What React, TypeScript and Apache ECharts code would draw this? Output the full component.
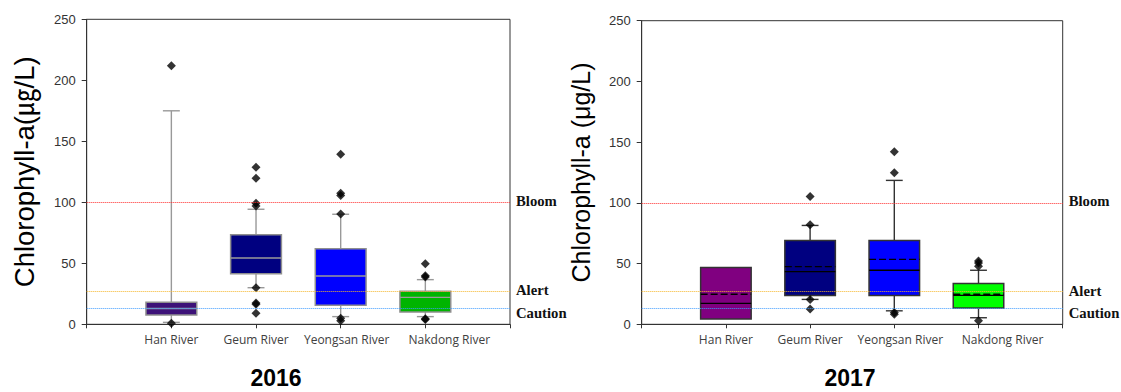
import React, { useEffect, useRef } from 'react';
import * as echarts from 'echarts';

const categories = ['Han River', 'Geum River', 'Yeongsan River', 'Nakdong River'];
const yearTitles = ['2016', '2017'];
const yTitles = ['Chlorophyll-a(㎍/L)', 'Chlorophyll-a (μg/L)'];

// 2016 box statistics
const low2016 = [1.6, 30, 6.3, 6.3];
const q1_2016 = [7.6, 41.5, 15.6, 10.1];
const median2016 = [13, 54.3, 39.6, 22.1];
const q3_2016 = [18, 73.4, 62, 27];
const high2016 = [175, 94.3, 90.2, 36.6];
const outliers2016 = [
  [212, 0.8],
  [128.7, 119.7, 99.2, 97, 30, 17.5, 16.5, 9],
  [139.3, 107.4, 105.5, 90.5, 5, 3],
  [49.7, 39.8, 38.8, 4.5, 4],
];
const colors2016 = ['#3d1278', '#000080', '#0000ff', '#00b400'];

// 2017 box statistics
const low2017 = [null, 20.5, 11.1, 5.4];
const q1_2017 = [4.3, 23.8, 23.8, 13.4];
const median2017 = [17.2, 43.4, 44.5, 23.8];
const mean2017 = [24.8, 47.5, 53.5, 24.8];
const q3_2017 = [46.7, 69.1, 69.1, 33.6];
const high2017 = [null, 81.4, 118.5, 44.5];
const outliers2017 = [
  [],
  [105.2, 82, 20.5, 12.5],
  [142, 124.8, 9.8, 8.2],
  [52.1, 50.5, 47.8, 3],
];
const colors2017 = ['#800080', '#000080', '#0000ff', '#00ff00'];

// threshold lines
const thresholdValues = [100, 27, 13.4];
const thresholdNames = ['Bloom', 'Alert', 'Caution'];
const thresholdColors = ['#ff2a2a', '#f5b62a', '#3d9bff'];

// styling: the source shifts the last two category labels to the right
const labelShiftPad = [0, 0, 12, 48];

type Stats = {
  low: (number | null)[];
  q1: number[];
  med: number[];
  q3: number[];
  high: (number | null)[];
  mean: number[] | null;
  colors: string[];
  edge: string;
  whisker: string;
  median: string;
};

function makeRender(s: Stats) {
  return (params: any, api: any) => {
    const i = params.dataIndex;
    const x = i + 1;
    const half = api.size([0.6, 0])[0] / 2;
    const capHalf = api.size([0.2, 0])[0] / 2;
    const c = (v: number) => api.coord([x, v]);
    const cx = c(s.q1[i])[0];
    const children: any[] = [];
    const wStyle = { stroke: s.whisker, lineWidth: 1.4 };
    const lo = s.low[i];
    if (lo != null) {
      const a = c(s.q1[i])[1];
      const b = c(lo)[1];
      children.push({ type: 'line', shape: { x1: cx, y1: a, x2: cx, y2: b }, style: wStyle });
      children.push({ type: 'line', shape: { x1: cx - capHalf, y1: b, x2: cx + capHalf, y2: b }, style: wStyle });
    }
    const hi = s.high[i];
    if (hi != null) {
      const a = c(s.q3[i])[1];
      const b = c(hi)[1];
      children.push({ type: 'line', shape: { x1: cx, y1: a, x2: cx, y2: b }, style: wStyle });
      children.push({ type: 'line', shape: { x1: cx - capHalf, y1: b, x2: cx + capHalf, y2: b }, style: wStyle });
    }
    const top = c(s.q3[i])[1];
    const bottom = c(s.q1[i])[1];
    children.push({
      type: 'rect',
      shape: { x: cx - half, y: top, width: half * 2, height: bottom - top },
      style: { fill: s.colors[i], stroke: s.edge, lineWidth: 1.5 },
    });
    const my = c(s.med[i])[1];
    children.push({
      type: 'line',
      shape: { x1: cx - half, y1: my, x2: cx + half, y2: my },
      style: { stroke: s.median, lineWidth: 1.4 },
    });
    if (s.mean) {
      const ay = c(s.mean[i])[1];
      children.push({
        type: 'line',
        shape: { x1: cx - half, y1: ay, x2: cx + half, y2: ay },
        style: { stroke: '#000', lineWidth: 1.4, lineDash: [7, 3] },
      });
    }
    return { type: 'group', children };
  };
}

const sansFont = '"Liberation Sans", Arial, "Noto Sans CJK KR", sans-serif';
const catFont = '"Open Sans", sans-serif';
const serifFont = '"Liberation Serif", "Times New Roman", serif';

function buildGrid(idx: number) {
  const rich: any = {};
  labelShiftPad.forEach((p, k) => {
    rich['c' + k] = { fontFamily: catFont, fontSize: 12, color: '#404040', padding: [0, 0, 0, p] };
  });
  return {
    xAxis: {
      type: 'value',
      gridIndex: idx,
      min: 0,
      max: 5,
      interval: 1,
      axisLine: { show: true, lineStyle: { color: '#333', width: 1 } },
      axisTick: { show: true, length: 4, lineStyle: { color: '#333' } },
      splitLine: { show: false },
      axisLabel: {
        margin: 9,
        fontFamily: catFont,
        fontSize: 12,
        color: '#404040',
        rich,
        formatter: (v: number) =>
          v >= 1 && v <= 4 ? '{c' + (v - 1) + '|' + categories[v - 1] + '}' : '',
      },
    },
    yAxis: {
      type: 'value',
      gridIndex: idx,
      min: 0,
      max: 250,
      interval: 50,
      name: yTitles[idx],
      nameLocation: 'middle',
      nameGap: 48,
      nameTextStyle: { fontSize: idx === 0 ? 27.5 : 25, fontFamily: sansFont, color: '#000' },
      axisLine: { show: true, lineStyle: { color: '#333', width: 1 } },
      axisTick: { show: true, length: 5, lineStyle: { color: '#333' } },
      splitLine: { show: false },
      axisLabel: { margin: 11, fontFamily: sansFont, fontSize: 13, color: '#333' },
    },
  };
}

const markLabelBase = { fontFamily: serifFont, fontWeight: 'bold', fontSize: 14.7, color: '#111' };

function thresholdMarkLine() {
  return {
    silent: true,
    symbol: 'none',
    animation: false,
    data: thresholdValues.map((v, k) => ({
      yAxis: v,
      lineStyle: { color: thresholdColors[k], type: 'dotted', width: 1 },
      label: {
        show: true,
        position: 'end',
        distance: 6,
        ...markLabelBase,
        formatter: '{t' + k + '|' + thresholdNames[k] + '}',
        rich: {
          t0: { ...markLabelBase, padding: [0, 0, 3, 0] },
          t1: { ...markLabelBase, padding: [0, 0, 2, 0] },
          t2: { ...markLabelBase, padding: [10, 0, 0, 0] },
        },
      },
    })),
  };
}

export default function App() {
  const ref = useRef<HTMLDivElement>(null);
  useEffect(() => {
    if (!ref.current) return;
    const chart = echarts.init(ref.current, undefined, { renderer: 'svg' });
    const g0 = buildGrid(0);
    const g1 = buildGrid(1);
    const stats2016: Stats = {
      low: low2016, q1: q1_2016, med: median2016, q3: q3_2016, high: high2016, mean: null,
      colors: colors2016, edge: '#8f8f8f', whisker: '#999', median: '#9a9a9a',
    };
    const stats2017: Stats = {
      low: low2017, q1: q1_2017, med: median2017, q3: q3_2017, high: high2017, mean: mean2017,
      colors: colors2017, edge: '#333', whisker: '#333', median: '#000',
    };
    const yearStyle = {
      textAlign: 'center',
      textVerticalAlign: 'middle',
      fontSize: 23,
      fontWeight: 'bold',
      fontFamily: sansFont,
      fill: '#000',
    };
    const option: any = {
      animation: false,
      backgroundColor: '#fff',
      grid: [
        { left: 86.7, top: 19.3, width: 423.3, height: 305, show: true, borderColor: '#333', borderWidth: 1, backgroundColor: 'transparent' },
        { left: 641.7, top: 20.7, width: 421, height: 303.6, show: true, borderColor: '#333', borderWidth: 1, backgroundColor: 'transparent' },
      ],
      xAxis: [g0.xAxis, g1.xAxis],
      yAxis: [g0.yAxis, g1.yAxis],
      graphic: [
        { type: 'text', x: 276, y: 378, style: { ...yearStyle, text: yearTitles[0] } },
        { type: 'text', x: 850, y: 378, style: { ...yearStyle, text: yearTitles[1] } },
      ],
      series: [
        {
          type: 'custom',
          name: '2016',
          xAxisIndex: 0,
          yAxisIndex: 0,
          z: 2,
          renderItem: makeRender(stats2016),
          encode: { x: 0, y: [1, 2] },
          data: categories.map((_, i) => [i + 1, q1_2016[i], q3_2016[i]]),
        },
        {
          type: 'custom',
          name: '2017',
          xAxisIndex: 1,
          yAxisIndex: 1,
          z: 2,
          renderItem: makeRender(stats2017),
          encode: { x: 0, y: [1, 2] },
          data: categories.map((_, i) => [i + 1, q1_2017[i], q3_2017[i]]),
        },
        {
          type: 'scatter',
          name: 'outliers 2016',
          xAxisIndex: 0,
          yAxisIndex: 0,
          z: 4,
          symbol: 'diamond',
          symbolSize: 9,
          itemStyle: { color: '#000' },
          data: outliers2016.flatMap((vals, i) => vals.map((v) => [i + 1, v])),
          markLine: thresholdMarkLine(),
        },
        {
          type: 'scatter',
          name: 'outliers 2017',
          xAxisIndex: 1,
          yAxisIndex: 1,
          z: 4,
          symbol: 'diamond',
          symbolSize: 9,
          itemStyle: { color: '#000' },
          data: outliers2017.flatMap((vals, i) => vals.map((v) => [i + 1, v])),
          markLine: thresholdMarkLine(),
        },
      ],
    };
    chart.setOption(option);
    return () => chart.dispose();
  }, []);
  return (
    <div
      ref={ref}
      style={{ position: 'absolute', left: 0, top: 0, width: 1121, height: 392, background: '#fff' }}
    />
  );
}
